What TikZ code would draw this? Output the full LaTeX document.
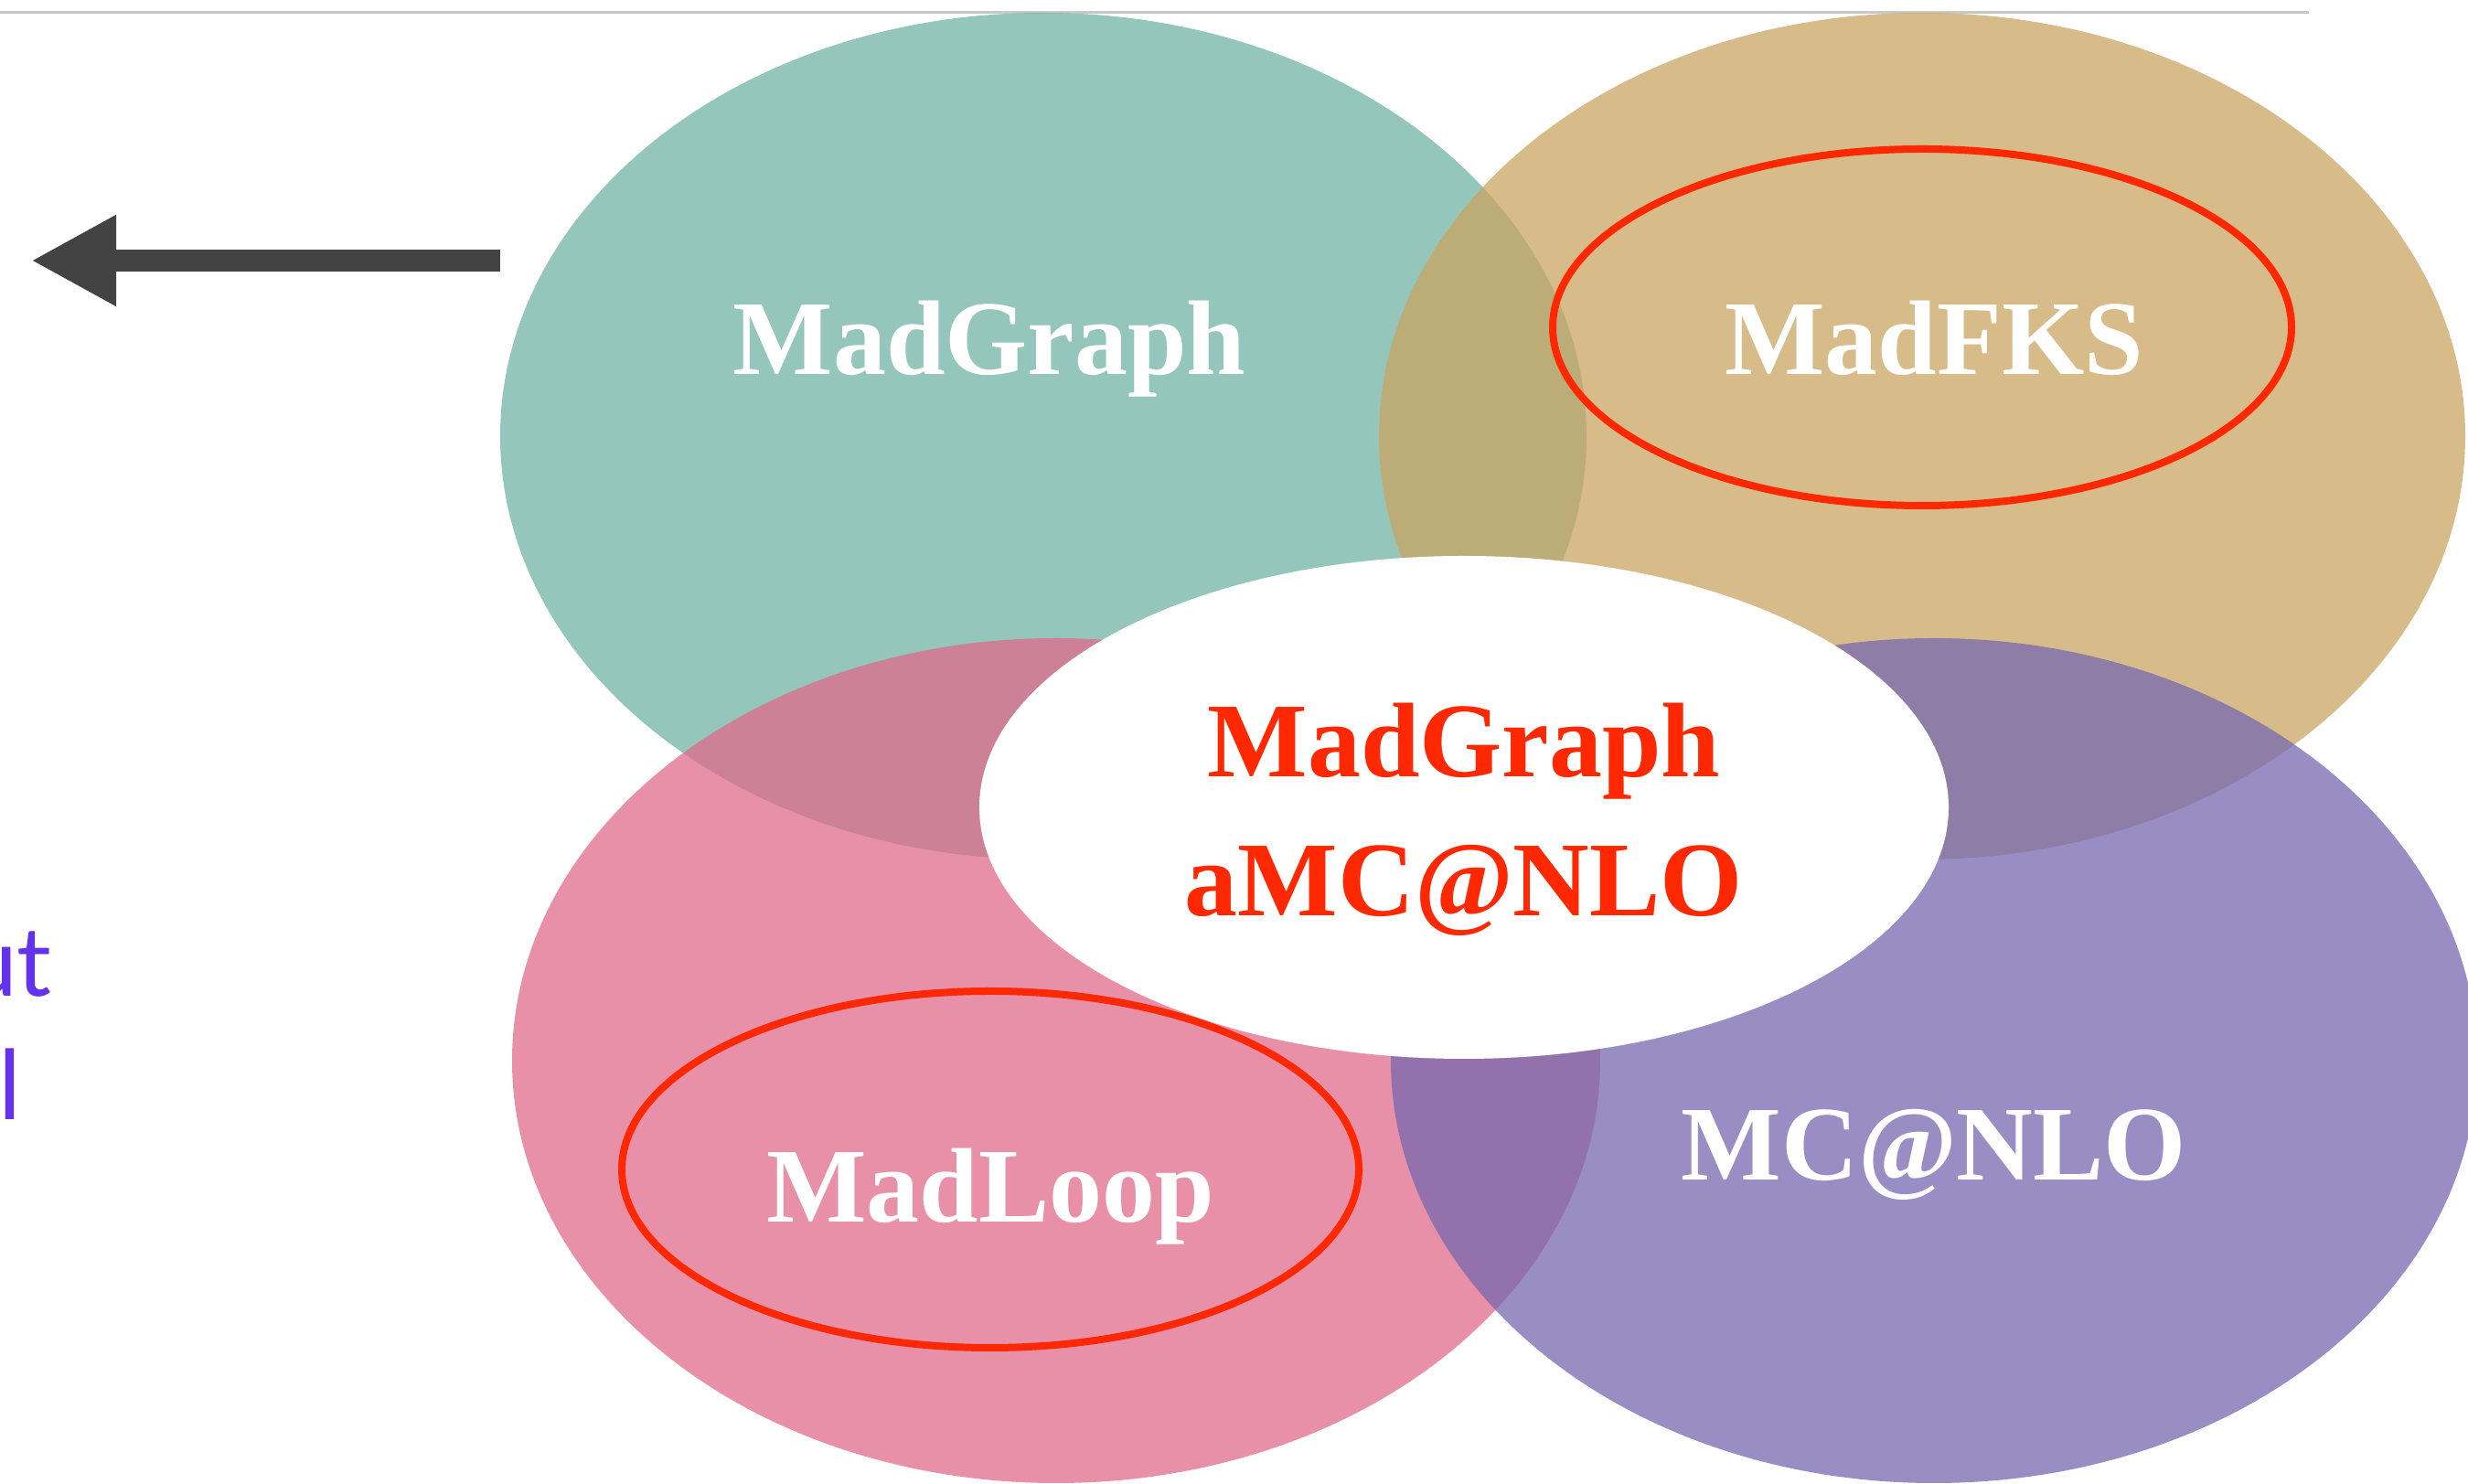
\documentclass[tikz,border=0pt]{standalone}
\usepackage{fontspec}
\setmainfont{Liberation Serif}
\newfontfamily\notefont{Lato}
\usetikzlibrary{arrows.meta}

\definecolor{graph color}{RGB}{114,179,164}
\definecolor{fks color}{RGB}{202,164,98}
\definecolor{loop color}{RGB}{224,107,139}
\definecolor{nlo color}{RGB}{118,104,176}
\definecolor{ring color}{RGB}{255,40,0}
\definecolor{arrow color}{RGB}{67,67,67}
\definecolor{rule color}{RGB}{200,200,200}
\definecolor{note color}{RGB}{100,50,235}

\tikzset{
  blob/.style={fill opacity=.75},
  ring/.style={draw=ring color, line width=.08cm},
  tool name/.style={anchor=base, inner sep=0pt, font=\fontsize{33}{40}\selectfont\bfseries},
  note/.style={anchor=base east, inner sep=0pt, note color, font=\notefont\fontsize{30}{36}\selectfont},
}

\begin{document}
\begin{tikzpicture}[thick]
	\clip (0,0) rectangle (26.99,16.23);
	\draw [rule color, line width=.03cm] (0,16.09) -- (25.25,16.09);

	% the four codes
	\fill [graph color, blob] (11.41,11.46) ellipse [x radius=5.94, y radius=4.63];
	\fill [fks color, blob] (21.02,11.46) ellipse [x radius=5.94, y radius=4.63];
	\fill [loop color, blob] (11.55,4.63) ellipse [x radius=5.95, y radius=4.62];
	\fill [nlo color, blob] (21.15,4.63) ellipse [x radius=5.94, y radius=4.62];
	\fill [white] (16.01,7.40) ellipse [x radius=5.30, y radius=2.75];

	\draw [ring] (21.02,12.65) ellipse [x radius=4.04, y radius=1.95];
	\draw [ring] (10.83,3.44) ellipse [x radius=4.03, y radius=1.95];

	\begin{scope}[white]
		\node (madgraph) [tool name] at (10.82,12.13) {MadGraph};
		\node (madfks) [tool name] at (21.15,12.13) {MadFKS};
		\node (madloop) [tool name] at (10.83,2.86) {MadLoop};
		\node (mcatnlo) [tool name] at (21.15,3.32) {MC@NLO};
	\end{scope}

	\begin{scope}[ring color]
		\node (amc top) [tool name] at (16.01,7.73) {MadGraph};
		\node (amc bottom) [tool name] at (16.01,6.21) {aMC@NLO};
	\end{scope}

	\coordinate (arrow start) at (5.47,13.38);
	\coordinate (arrow end) at (0.34,13.38);
	\draw [arrow color, line width=.24cm, -{Triangle[length=.93cm, width=.93cm]}] (arrow start) -- (arrow end);

	\node (note top) [note] at (0.58,5.33) {ut};
	\node (note bottom) [note] at (0.25,3.98) {nl};
\end{tikzpicture}
\end{document}
